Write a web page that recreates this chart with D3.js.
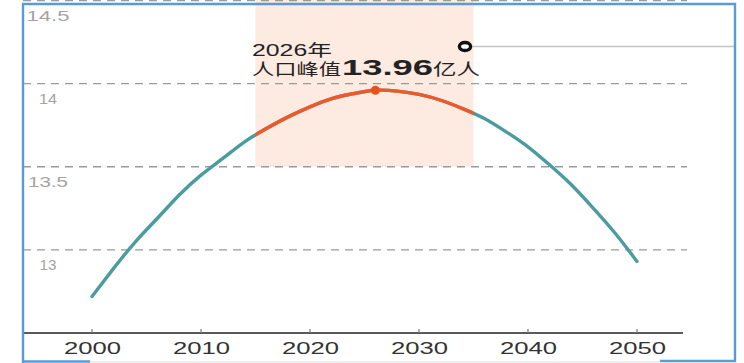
<!DOCTYPE html>
<html>
<head>
<meta charset="utf-8">
<script src="https://cdn.jsdelivr.net/npm/d3@7"></script>
<style>
  html, body { margin: 0; padding: 0; background: #fff; }
  svg { display: block; }
  text { font-family: "Liberation Sans", Arial, "Noto Sans CJK SC", sans-serif; }
</style>
</head>
<body>
<svg id="chart" width="744" height="363"></svg>
<script>
// Total population of China, 100 million people (亿人), actual and projected
const years = [2000, 2002, 2004, 2006, 2008, 2010, 2012, 2014, 2016, 2018, 2020, 2022, 2024,
               2026, 2028, 2030, 2032, 2034, 2036, 2038, 2040, 2042, 2044, 2046, 2048, 2050];
const population = [12.72, 12.89, 13.05, 13.19, 13.33, 13.45, 13.55, 13.65, 13.73, 13.80, 13.86, 13.91, 13.94,
                     13.96, 13.955, 13.935, 13.90, 13.85, 13.79, 13.71, 13.62, 13.51, 13.39, 13.25, 13.10, 12.93];
const xTicks = [2000, 2010, 2020, 2030, 2040, 2050];
const yTicks = [13, 13.5, 14, 14.5];
const peakWindow = [2015, 2035];
const peak = { year: 2026, value: 13.96 };

const svg = d3.select("#chart");

const x = d3.scaleLinear().domain([2000, 2050]).range([92, 637]);
const y = d3.scaleLinear().domain([12.5, 14.5]).range([333, 0.5]);

const data = years.map((yr, i) => ({ year: yr, value: population[i] }));

// highlighted peak period
svg.append("rect")
  .attr("x", x(peakWindow[0])).attr("y", 0)
  .attr("width", x(peakWindow[1]) - x(peakWindow[0]))
  .attr("height", y(13.5))
  .attr("fill", "#fdeae0");

// dashed grid lines
svg.append("g").selectAll("line")
  .data(yTicks)
  .join("line")
  .attr("x1", 23).attr("x2", 687)
  .attr("y1", d => y(d)).attr("y2", d => y(d))
  .attr("stroke", "#9a9a9a")
  .attr("stroke-width", 1.4)
  .attr("stroke-dasharray", "8,6");

// y labels sit just under their grid lines
const yLabelWidth = { 13: 17, 13.5: 40, 14: 18, 14.5: 43 };
svg.append("g").selectAll("text")
  .data(yTicks)
  .join("text")
  .attr("x", d => 48 - yLabelWidth[d] / 2)
  .attr("y", d => y(d) + 20)
  .attr("textLength", d => yLabelWidth[d])
  .attr("lengthAdjust", "spacingAndGlyphs")
  .attr("font-size", 15.5)
  .attr("fill", "#a4a4a4")
  .text(d => d3.format("~g")(d));

// x axis
const xAxis = svg.append("g").attr("transform", `translate(0,333)`);
xAxis.append("line")
  .attr("x1", 23).attr("x2", 683)
  .attr("stroke", "#5a5a5a").attr("stroke-width", 2);
xAxis.selectAll("line.tick")
  .data(xTicks)
  .join("line")
  .attr("class", "tick")
  .attr("x1", d => x(d)).attr("x2", d => x(d))
  .attr("y1", 0).attr("y2", -4)
  .attr("stroke", "#777").attr("stroke-width", 1.2);
xAxis.selectAll("text")
  .data(xTicks)
  .join("text")
  .attr("x", d => x(d) - 28)
  .attr("y", 21)
  .attr("textLength", 57)
  .attr("lengthAdjust", "spacingAndGlyphs")
  .attr("font-size", 16)
  .attr("fill", "#333")
  .text(d => d);

// population line: teal overall, orange within the peak window
const line = d3.line()
  .x(d => x(d.year))
  .y(d => y(d.value))
  .curve(d3.curveNatural);

svg.append("clipPath").attr("id", "peakClip")
  .append("rect")
  .attr("x", x(peakWindow[0])).attr("y", 0)
  .attr("width", x(peakWindow[1]) - x(peakWindow[0]))
  .attr("height", 363);

svg.append("path")
  .datum(data)
  .attr("d", line)
  .attr("fill", "none")
  .attr("stroke", "#4a9c9f")
  .attr("stroke-width", 3.4)
  .attr("stroke-linecap", "round");

svg.append("path")
  .datum(data)
  .attr("d", line)
  .attr("fill", "none")
  .attr("stroke", "#f0582a")
  .attr("stroke-width", 3.4)
  .attr("clip-path", "url(#peakClip)");

svg.append("circle")
  .attr("cx", x(peak.year)).attr("cy", y(peak.value))
  .attr("r", 4.5)
  .attr("fill", "#f04d1c");

// peak annotation
svg.append("text")
  .attr("x", 252).attr("y", 56)
  .attr("textLength", 80).attr("lengthAdjust", "spacingAndGlyphs")
  .attr("font-size", 16).attr("fill", "#222")
  .text(peak.year + "年");
svg.append("text")
  .attr("x", 252).attr("y", 75)
  .attr("textLength", 89).attr("lengthAdjust", "spacingAndGlyphs")
  .attr("font-size", 16).attr("fill", "#222")
  .text("人口峰值");
svg.append("text")
  .attr("x", 342).attr("y", 75)
  .attr("textLength", 91).attr("lengthAdjust", "spacingAndGlyphs")
  .attr("font-size", 22).attr("font-weight", "bold").attr("fill", "#222")
  .text(peak.value.toFixed(2));
svg.append("text")
  .attr("x", 433).attr("y", 75)
  .attr("textLength", 47).attr("lengthAdjust", "spacingAndGlyphs")
  .attr("font-size", 16).attr("fill", "#222")
  .text("亿人");

// leader line with its end marker
svg.append("line")
  .attr("x1", 468).attr("x2", 735)
  .attr("y1", 46.5).attr("y2", 46.5)
  .attr("stroke", "#c4c4c4").attr("stroke-width", 1.4);
svg.append("ellipse")
  .attr("cx", 465).attr("cy", 46.5)
  .attr("rx", 5.6).attr("ry", 4)
  .attr("fill", "#fff")
  .attr("stroke", "#111").attr("stroke-width", 3.4);

// faint rule under the axis labels
svg.append("line")
  .attr("x1", 90).attr("x2", 660)
  .attr("y1", 362).attr("y2", 362)
  .attr("stroke", "#ddd").attr("stroke-width", 1);

// outer frame
const frame = d3.path();
frame.moveTo(23, 363); frame.lineTo(23, 4); frame.lineTo(735, 4); frame.lineTo(735, 361); frame.lineTo(660, 361);
frame.moveTo(23, 361.5); frame.lineTo(90, 361.5);
svg.append("path")
  .attr("d", frame.toString())
  .attr("fill", "none")
  .attr("stroke", "#5b9bd5")
  .attr("stroke-width", 2.4);
</script>
</body>
</html>
